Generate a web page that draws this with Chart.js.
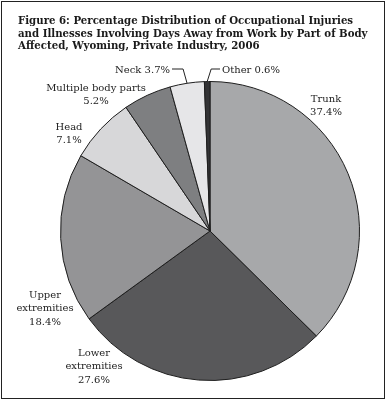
<!doctype html>
<html lang="en">
<head>
    <meta charset="UTF-8" />
    <title>Figure 6</title>
    <style>
        body {
            margin: 0;
            background: #fff;
        }
        .frame {
            position: absolute;
            left: 1px;
            top: 1px;
            width: 382px;
            height: 396px;
            border: 1.5px solid #222;
        }
        canvas {
            position: absolute;
            left: 0;
            top: 0;
        }
    </style>
</head>
<body>
    <div class="frame"></div>
    <canvas id="bodyChart" width="387" height="402"></canvas>

    <script src="https://cdn.jsdelivr.net/npm/chart.js"></script>
    <script>
        // Data
        const parts = ['Trunk', 'Lower extremities', 'Upper extremities', 'Head', 'Multiple body parts', 'Neck', 'Other'];
        const percents = [37.4, 27.6, 18.4, 7.1, 5.2, 3.7, 0.6];
        const shades = ['#a7a8aa', '#58585a', '#949496', '#d7d7d9', '#7e7f81', '#e6e6e8', '#333335'];
        const titleLines = [
            'Figure 6: Percentage Distribution of Occupational Injuries',
            'and Illnesses Involving Days Away from Work by Part of Body',
            'Affected, Wyoming, Private Industry, 2006'
        ];

        // label layout: first-line baseline, centre x, line breaks
        const labelLines = [
            ['Trunk'], ['Lower', 'extremities'], ['Upper', 'extremities'], ['Head'],
            ['Multiple body parts'], ['Neck'], ['Other']
        ];
        const labelSpots = [
            [326, 102], [94, 356], [45, 298], [69, 130], [96, 91], [170, 73], [222, 73]
        ];
        const serif = '"DejaVu Serif", serif';

        const labelPlugin = {
            id: 'labels',
            afterDraw(chart) {
                const c = chart.ctx;
                c.save();
                // title
                c.fillStyle = '#1a1a1a';
                c.textAlign = 'left';
                c.font = 'bold 10.2px ' + serif;
                titleLines.forEach((t, i) => c.fillText(t, 18, 24 + i * 12.5));

                c.font = '10px ' + serif;
                c.fillStyle = '#222';
                const arcs = chart.getDatasetMeta(0).data;
                parts.forEach((p, i) => {
                    const [x, y] = labelSpots[i];
                    const pct = percents[i].toFixed(1) + '%';
                    if (i >= 5) {
                        // small slices: one line with a leader
                        const arc = arcs[i];
                        const mid = (arc.startAngle + arc.endAngle) / 2;
                        const ex = arc.x + arc.outerRadius * Math.cos(mid);
                        const ey = arc.y + arc.outerRadius * Math.sin(mid);
                        const right = i === 6;
                        c.textAlign = right ? 'left' : 'right';
                        c.fillText(labelLines[i][0] + ' ' + pct, x, y);
                        c.strokeStyle = '#222';
                        c.lineWidth = 1;
                        c.beginPath();
                        c.moveTo(right ? x - 2 : x + 2, y - 4);
                        c.lineTo(right ? ex + 4 : ex - 4, y - 4);
                        c.lineTo(ex, ey);
                        c.stroke();
                        return;
                    }
                    c.textAlign = 'center';
                    const lines = labelLines[i].concat([pct]);
                    lines.forEach((l, k) => c.fillText(l, x, y + k * 13.3));
                });
                c.restore();
            }
        };

        new Chart(document.getElementById('bodyChart'), {
            type: 'pie',
            data: {
                labels: parts,
                datasets: [{
                    data: percents,
                    backgroundColor: shades,
                    borderColor: '#1e1e1e',
                    borderWidth: 1
                }]
            },
            options: {
                responsive: false,
                animation: false,
                layout: {
                    padding: { left: 60, right: 27, top: 81, bottom: 21 }
                },
                plugins: {
                    legend: { display: false },
                    tooltip: { enabled: false },
                    title: { display: false }
                }
            },
            plugins: [labelPlugin]
        });
    </script>
</body>
</html>
